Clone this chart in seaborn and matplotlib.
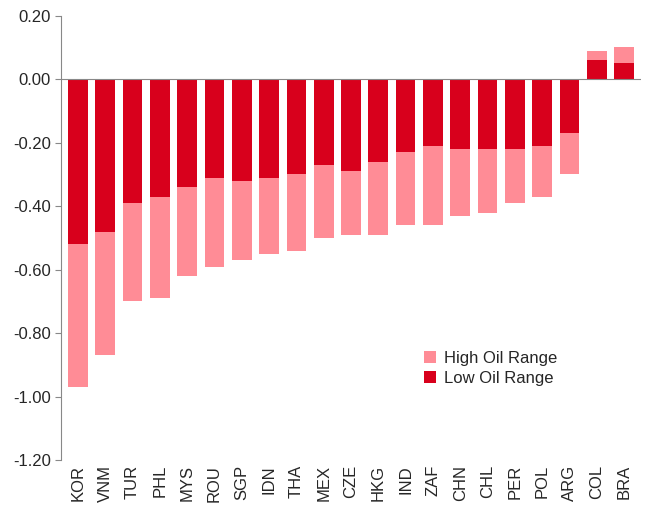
import matplotlib
matplotlib.use("Agg")
import matplotlib.pyplot as plt
import seaborn as sns
import pandas as pd

countries = ["KOR", "VNM", "TUR", "PHL", "MYS", "ROU", "SGP", "IDN", "THA", "MEX", "CZE",
             "HKG", "IND", "ZAF", "CHN", "CHL", "PER", "POL", "ARG", "COL", "BRA"]
low_oil = [-0.52, -0.48, -0.39, -0.37, -0.34, -0.31, -0.32, -0.31, -0.30, -0.27, -0.29,
           -0.26, -0.23, -0.21, -0.22, -0.22, -0.22, -0.21, -0.17, 0.06, 0.05]
high_oil = [-0.97, -0.87, -0.70, -0.69, -0.62, -0.59, -0.57, -0.55, -0.54, -0.50, -0.49,
            -0.49, -0.46, -0.46, -0.43, -0.42, -0.39, -0.37, -0.30, 0.09, 0.10]

df = pd.DataFrame({"country": countries, "low": low_oil, "high": high_oil})

sns.set_style("white")
plt.rcParams["font.family"] = ["Liberation Sans", "DejaVu Sans"]
fig, ax = plt.subplots(figsize=(6.47, 5.23), dpi=100)

sns.barplot(data=df, x="country", y="high", color="#FF8C96", saturation=1,
            width=0.72, linewidth=0, label="High Oil Range", ax=ax)
sns.barplot(data=df, x="country", y="low", color="#D8001C", saturation=1,
            width=0.72, linewidth=0, label="Low Oil Range", ax=ax)

ax.set_ylim(-1.2, 0.2)
ticks = [0.2, 0.0, -0.2, -0.4, -0.6, -0.8, -1.0, -1.2]
ax.set_yticks(ticks)
ax.set_yticklabels([f"{v:.2f}" for v in ticks])
ax.set_xlim(-0.6, len(countries) - 0.4)
ax.axhline(0, color="#888888", lw=0.8)
for s in ["top", "right", "bottom"]:
    ax.spines[s].set_visible(False)
ax.spines["left"].set_color("#888888")
ax.tick_params(axis="y", length=4, color="#888888", labelsize=12, direction="out", left=True)
ax.tick_params(axis="x", labelsize=12, length=0, rotation=90)
ax.set_xlabel("")
ax.set_ylabel("")
ax.legend(loc="upper left", bbox_to_anchor=(0.60, 0.28), frameon=False, fontsize=12,
          handlelength=0.7, handleheight=0.7, handletextpad=0.5, labelspacing=0.3)

plt.subplots_adjust(left=0.095, right=0.99, top=0.97, bottom=0.12)
fig.savefig("out.png", dpi=100)
